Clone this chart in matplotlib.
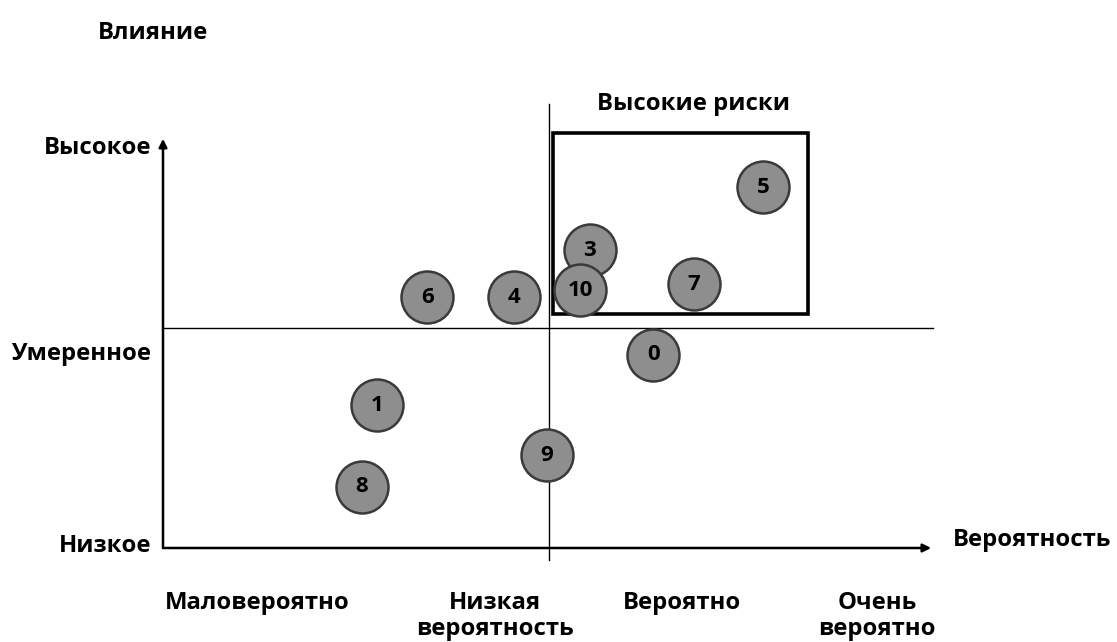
import matplotlib
matplotlib.use("Agg")
import matplotlib.pyplot as plt
from matplotlib.patches import Rectangle

plt.rcParams['font.family'] = ['Open Sans', 'DejaVu Sans']

# Data
risk_ids = ['5', '3', '10', '7', '6', '4', '0', '1', '9', '8']
probability = [3.11, 2.21, 2.16, 2.75, 1.37, 1.82, 2.54, 1.11, 1.99, 1.03]
impact = [8.20, 6.77, 5.86, 6.00, 5.70, 5.70, 4.39, 3.25, 2.11, 1.39]

x_categories = ['Маловероятно', 'Низкая\nвероятность', 'Вероятно', 'Очень\nвероятно']
x_cat_pos = [0.49, 1.72, 2.69, 3.70]
y_categories = ['Низкое', 'Умеренное', 'Высокое']
y_cat_pos = [0.05, 4.4, 9.1]

prob_split = 2.0
impact_split = 5.0
high_risk_box = (2.02, 5.32, 3.34, 9.43)  # x0, y0, x1, y1

W, H = 1117, 642
fig = plt.figure(figsize=(W / 100, H / 100), dpi=100)
ax = fig.add_axes([0, 0, 1, 1])
ax.set_xlim(-163 / 193, (W - 163) / 193)
ax.set_ylim((548 - H) / 44, 548 / 44)
ax.axis('off')

# Axes with arrows
ax.annotate('', xy=(0, 9.3), xytext=(0, 0),
            arrowprops=dict(arrowstyle='-|>', color='black', lw=1.8,
                            mutation_scale=12, shrinkA=0, shrinkB=0))
ax.annotate('', xy=(3.98, 0), xytext=(0, 0),
            arrowprops=dict(arrowstyle='-|>', color='black', lw=1.8,
                            mutation_scale=12, shrinkA=0, shrinkB=0))

# Dividers
ax.plot([prob_split, prob_split], [-0.27, 10.1], color='black', lw=1.0)
ax.plot([0, 3.99], [impact_split, impact_split], color='black', lw=1.0)

# High risk box
x0, y0, x1, y1 = high_risk_box
ax.add_patch(Rectangle((x0, y0), x1 - x0, y1 - y0, fill=False,
                       edgecolor='black', lw=2.6, zorder=2))

# Risk circles
ax.scatter(probability, impact, s=1400, c='#8e8e8e', edgecolors='#3a3a3a',
           linewidths=1.8, zorder=3)
for rid, px, py in zip(risk_ids, probability, impact):
    ax.text(px, py, rid, ha='center', va='center', fontsize=16,
            fontweight='bold', color='black', zorder=4)

fs = 17.2
# Axis titles
ax.text(-0.05, 11.7, 'Влияние', ha='center', va='center', fontsize=fs, fontweight='bold')
ax.text((W - 6 - 163) / 193, 0.18, 'Вероятность', ha='right', va='center', fontsize=fs, fontweight='bold')
ax.text(2.75, 10.1, 'Высокие риски', ha='center', va='center', fontsize=fs, fontweight='bold')

for lab, yp in zip(y_categories, y_cat_pos):
    ax.text(-0.06, yp, lab, ha='right', va='center', fontsize=fs, fontweight='bold')

for lab, xp in zip(x_categories, x_cat_pos):
    ax.text(xp, -0.98, lab, ha='center', va='top', fontsize=fs, fontweight='bold',
            linespacing=1.12)

fig.savefig('out.png', dpi=100, facecolor='white')
